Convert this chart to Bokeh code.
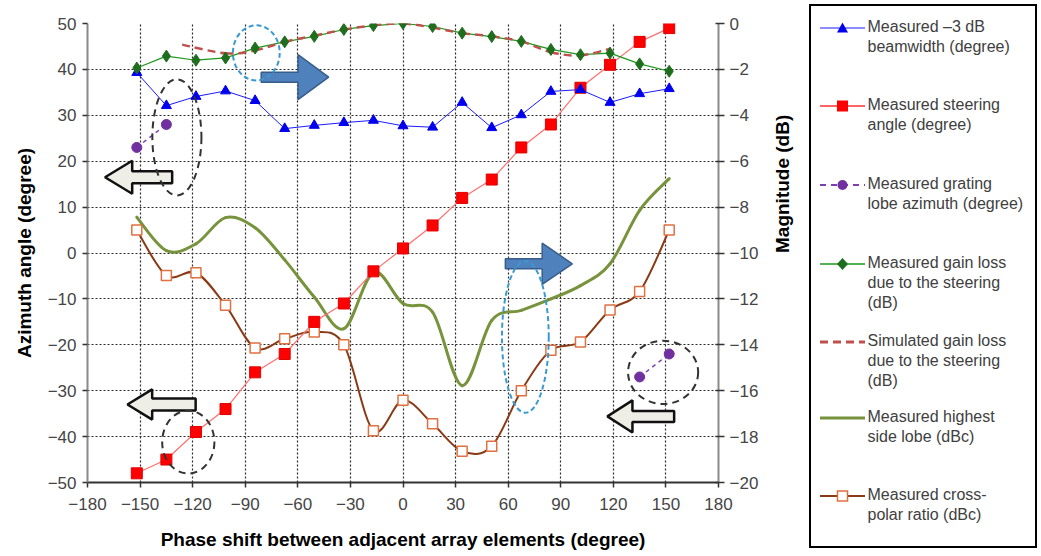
import math
from bokeh.plotting import figure
from bokeh.models import Range1d, LinearAxis, FixedTicker, Div
from bokeh.layouts import row
from bokeh.embed import file_html
from bokeh.resources import INLINE

FONT = "Liberation Sans"

# ---------------- data ----------------
phase = [-151.875, -135.0, -118.125, -101.25, -84.375, -67.5, -50.625, -33.75, -16.875,
         0.0, 16.875, 33.75, 50.625, 67.5, 84.375, 101.25, 118.125, 135.0, 151.875]

beamwidth_deg = [39.3, 32.1, 34.1, 35.3, 33.2, 27.1, 27.8, 28.4, 28.9, 27.7,
                 27.4, 32.8, 27.3, 30.1, 35.2, 35.6, 32.8, 34.7, 35.8]
steering_deg = [-48, -45, -39, -34, -26, -22, -15, -11, -4, 1,
                6, 12, 16, 23, 28, 36, 41, 46, 49]
grating_phase = [-151.875, -135.0, 135.0, 151.875]
grating_deg = [23, 28, -27, -22]
gain_meas_db = [-1.94, -1.42, -1.6, -1.5, -1.07, -0.8, -0.56, -0.26, -0.09, 0.0,
                -0.13, -0.42, -0.57, -0.78, -1.13, -1.36, -1.29, -1.76, -2.08]
sim_phase = [-126.0, -101.25, -84.375, -67.5, -50.625, -33.75, -16.875, 0.0,
             16.875, 33.75, 50.625, 67.5, 84.375, 101.25, 118.125]
gain_sim_db = [-0.92, -1.3, -1.18, -0.8, -0.53, -0.27, -0.08, 0.0,
               -0.18, -0.42, -0.56, -0.78, -1.25, -1.39, -1.1]
sidelobe_db = [-8.44, -9.9, -9.6, -8.46, -8.9, -10.3, -11.92, -13.3, -10.84, -12.2,
               -12.58, -15.78, -12.94, -12.5, -12.0, -11.42, -10.47, -8.14, -6.76]
crosspol_db = [-9.0, -10.98, -10.86, -12.28, -14.14, -13.74, -13.44, -14.0, -17.74, -16.42,
               -17.44, -18.64, -18.42, -16.0, -14.24, -13.88, -12.48, -11.68, -9.0]

x_ticks = list(range(-180, 181, 30))
left_ticks = list(range(-50, 51, 10))
right_ticks = list(range(-20, 1, 2))

legend_labels = [
    ["Measured \u20133 dB", "beamwidth (degree)"],
    ["Measured steering", "angle (degree)"],
    ["Measured grating", "lobe azimuth (degree)"],
    ["Measured gain loss", "due to the steering", "(dB)"],
    ["Simulated gain loss", "due to the steering", "(dB)"],
    ["Measured highest", "side lobe (dBc)"],
    ["Measured cross-", "polar ratio (dBc)"],
]
# legend layout (pixels inside the legend box): first-line centre of each entry, row pitch
legend_first_line = [21, 99, 178, 257, 335, 411, 489]
legend_pitch = 20

# annotation shapes (data units): arrows (tip_x, y, head_base_x, tail_x, body_half, head_half)
blue_arrows = [(-42.4, 38.3, -59.9, -80.9, 1.1, 4.9), (96.6, -2.35, 79.4, 58.4, 1.1, 4.5)]
white_arrows = [(-170.0, 16.5, -154.5, -131.7, 1.3, 3.6), (-157.2, -33.0, -143.1, -118.3, 1.3, 3.3),
                (116.6, -35.6, 130.9, 154.7, 1.2, 3.5)]
blue_ellipses = [(-83.7, 43.6, 26.7, 12.0), (69.8, -18.3, 26.7, 33.0)]
black_ellipses = [(-129.0, 25.2, 28.0, 25.3), (-122.5, -41.2, 29.8, 13.7), (148.4, -26.0, 40.0, 13.8)]


def minus(v):
    return f"{v:g}".replace("-", "\u2212")


def smooth_segments(xs, ys):
    """Bezier control points for an Excel-like smoothed line through the points."""
    n = len(xs)
    out = dict(x0=[], y0=[], x1=[], y1=[], cx0=[], cy0=[], cx1=[], cy1=[])
    for i in range(n - 1):
        a = i - 1 if i > 0 else i
        d = i + 2 if i + 2 < n else i + 1
        out["x0"].append(xs[i]); out["y0"].append(ys[i])
        out["x1"].append(xs[i + 1]); out["y1"].append(ys[i + 1])
        out["cx0"].append(xs[i] + (xs[i + 1] - xs[a]) / 6.0)
        out["cy0"].append(ys[i] + (ys[i + 1] - ys[a]) / 6.0)
        out["cx1"].append(xs[i + 1] - (xs[d] - xs[i]) / 6.0)
        out["cy1"].append(ys[i + 1] - (ys[d] - ys[i]) / 6.0)
    return out


def arrow_poly(tip_x, y, base_x, tail_x, bh, hh):
    xs = [tail_x, base_x, base_x, tip_x, base_x, base_x, tail_x]
    ys = [y + bh, y + bh, y + hh, y, y - hh, y - bh, y - bh]
    return xs, ys


# ---------------- figure ----------------
p = figure(width=808, height=556, x_range=Range1d(-180, 180), y_range=Range1d(-50, 50),
           output_backend="svg", toolbar_location=None,
           min_border_left=87, min_border_right=90, min_border_top=23, min_border_bottom=74)
p.extra_y_ranges = {"right": Range1d(-20, 0)}
p.outline_line_color = None
p.background_fill_color = "white"
p.border_fill_color = "white"

raxis = LinearAxis(y_range_name="right", ticker=FixedTicker(ticks=right_ticks))
p.add_layout(raxis, "right")

p.xaxis[0].ticker = FixedTicker(ticks=x_ticks)
p.yaxis[0].ticker = FixedTicker(ticks=left_ticks)
p.xaxis[0].major_label_overrides = {t: minus(t) for t in x_ticks}
p.yaxis[0].major_label_overrides = {t: minus(t) for t in left_ticks}
raxis.major_label_overrides = {t: minus(t) for t in right_ticks}

for ax in [p.xaxis[0], p.yaxis[0], raxis]:
    ax.major_label_text_font = FONT
    ax.major_label_text_font_size = "17px"
    ax.major_label_text_color = "#454545"
    ax.axis_line_color = "#8a8a8a"
    ax.axis_line_width = 2
    ax.major_tick_line_color = "#333333"
    ax.major_tick_line_width = 1.5
    ax.major_tick_out = 5
    ax.major_tick_in = 0
    ax.minor_tick_line_color = None
    ax.major_label_standoff = 6
    ax.axis_label_text_font = FONT
    ax.axis_label_text_font_style = "bold"
    ax.axis_label_text_font_size = "19px"
    ax.axis_label_text_color = "black"

p.xaxis[0].axis_line_color = "#333333"
p.xaxis[0].major_label_standoff = 10
raxis.major_tick_in = 3
raxis.major_tick_out = 6
raxis.major_label_standoff = 5
p.xaxis[0].axis_label = "Phase shift between adjacent array elements (degree)"
p.xaxis[0].axis_label_standoff = 16
p.yaxis[0].axis_label = "Azimuth angle (degree)"
p.yaxis[0].axis_label_standoff = 10
raxis.axis_label = "Magnitude (dB)"
raxis.axis_label_standoff = 21
try:
    raxis.axis_label_orientation = math.pi / 2
except Exception:
    pass

p.xgrid.ticker = FixedTicker(ticks=x_ticks)
p.ygrid.ticker = FixedTicker(ticks=left_ticks)
for g in [p.xgrid[0], p.ygrid[0]]:
    g.grid_line_color = "#2a2a2a"
    g.grid_line_dash = "2 2"
    g.grid_line_width = 1.2

# side lobe (smooth olive line)
p.bezier(**smooth_segments(phase, sidelobe_db), y_range_name="right",
         line_color="#77933C", line_width=3, line_cap="round")
# cross-polar ratio
p.bezier(**smooth_segments(phase, crosspol_db), y_range_name="right",
         line_color="#8B3A16", line_width=2, line_cap="round")
p.scatter(phase, crosspol_db, y_range_name="right", marker="square", size=10,
          fill_color="white", line_color="#E07040", line_width=1.5)
# steering
p.line(phase, steering_deg, line_color="#FF6F6F", line_width=1.2)
p.scatter(phase, steering_deg, marker="square", size=11, fill_color="#FF0000",
          line_color="#E00000")
# beamwidth
p.line(phase, beamwidth_deg, line_color="#1A1AFF", line_width=1)
p.scatter(phase, beamwidth_deg, marker="triangle", size=10, fill_color="#0000EE",
          line_color="#0000EE")
# grating lobe
p.multi_line([grating_phase[0:2], grating_phase[2:4]], [grating_deg[0:2], grating_deg[2:4]],
             line_color="#7B3FB0", line_width=1.5, line_dash="4 4")
p.scatter(grating_phase, grating_deg, marker="circle", size=10, fill_color="#7030A0",
          line_color="#7030A0")
# gain loss
p.line(phase, gain_meas_db, y_range_name="right", line_color="#1A9A1A", line_width=1.2)
p.bezier(**smooth_segments(sim_phase, gain_sim_db), y_range_name="right",
         line_color="#C0504D", line_width=2.5, line_dash="8 5")
p.scatter(phase, gain_meas_db, y_range_name="right", marker="diamond", size=12,
          fill_color="#1E6E1E", line_color="#1E6E1E")

# annotations
bx, by = zip(*[arrow_poly(*a) for a in blue_arrows])
p.patches(list(bx), list(by), fill_color="#4F81BD", line_color="#385D8A", line_width=1.5)
wx, wy = zip(*[arrow_poly(*a) for a in white_arrows])
p.patches(list(wx), list(wy), fill_color="#EEEEE6", line_color="#111111", line_width=2.5)
p.ellipse(x=[e[0] for e in blue_ellipses], y=[e[1] for e in blue_ellipses],
          width=[e[2] for e in blue_ellipses], height=[e[3] for e in blue_ellipses],
          fill_color=None, line_color="#3A9AD0", line_width=2, line_dash="5 3")
p.ellipse(x=[e[0] for e in black_ellipses], y=[e[1] for e in black_ellipses],
          width=[e[2] for e in black_ellipses], height=[e[3] for e in black_ellipses],
          fill_color=None, line_color="#333333", line_width=2, line_dash="7 5")

# ---------------- legend panel ----------------
def key_svg(i):
    base = '<line x1="0" y1="10" x2="45" y2="10" stroke="{c}" stroke-width="{w}"{d}/>'
    if i == 0:
        return (base.format(c="#1A1AFF", w=1.2, d="") +
                '<polygon points="22.5,4.5 28,14.5 17,14.5" fill="#0000EE"/>')
    if i == 1:
        return (base.format(c="#FF3030", w=1.5, d="") +
                '<rect x="17" y="4.5" width="11" height="11" fill="#FF0000"/>')
    if i == 2:
        return (base.format(c="#7B3FB0", w=2, d=' stroke-dasharray="6 5"') +
                '<circle cx="22.5" cy="10" r="5" fill="#7030A0"/>')
    if i == 3:
        return (base.format(c="#1A9A1A", w=1.5, d="") +
                '<polygon points="22.5,4 28,10 22.5,16 17,10" fill="#1E6E1E"/>')
    if i == 4:
        return base.format(c="#C0504D", w=3, d=' stroke-dasharray="8 5"')
    if i == 5:
        return base.format(c="#77933C", w=3, d="")
    return (base.format(c="#8B3A16", w=2, d="") +
            '<rect x="17.5" y="5" width="10" height="10" fill="white" stroke="#E07040" '
            'stroke-width="1.5"/>')


parts = []
for i, (lines, y0) in enumerate(zip(legend_labels, legend_first_line)):
    parts.append(f'<svg style="position:absolute;left:8.5px;top:{y0 - 9}px" width="45" '
                 f'height="20">{key_svg(i)}</svg>')
    for j, s in enumerate(lines):
        parts.append(f'<div style="position:absolute;left:56.5px;top:{y0 - 10 + j * legend_pitch}px;'
                     f'line-height:20px;white-space:nowrap">{s}</div>')

legend_html = (
    '<div style="position:relative;width:233px;height:556px">'
    '<div style="position:absolute;left:1px;top:4px;width:228px;height:544px;'
    'box-sizing:border-box;border:2.5px solid #000;background:#fff;'
    f"font-family:'{FONT}',Arial,sans-serif;font-size:16px;color:#404040\">"
    + "".join(parts) + '</div></div>'
)
legend_div = Div(text=legend_html, width=233, height=556, margin=0)

layout = row(p, legend_div)
open("out.html", "w").write(file_html(layout, INLINE))
